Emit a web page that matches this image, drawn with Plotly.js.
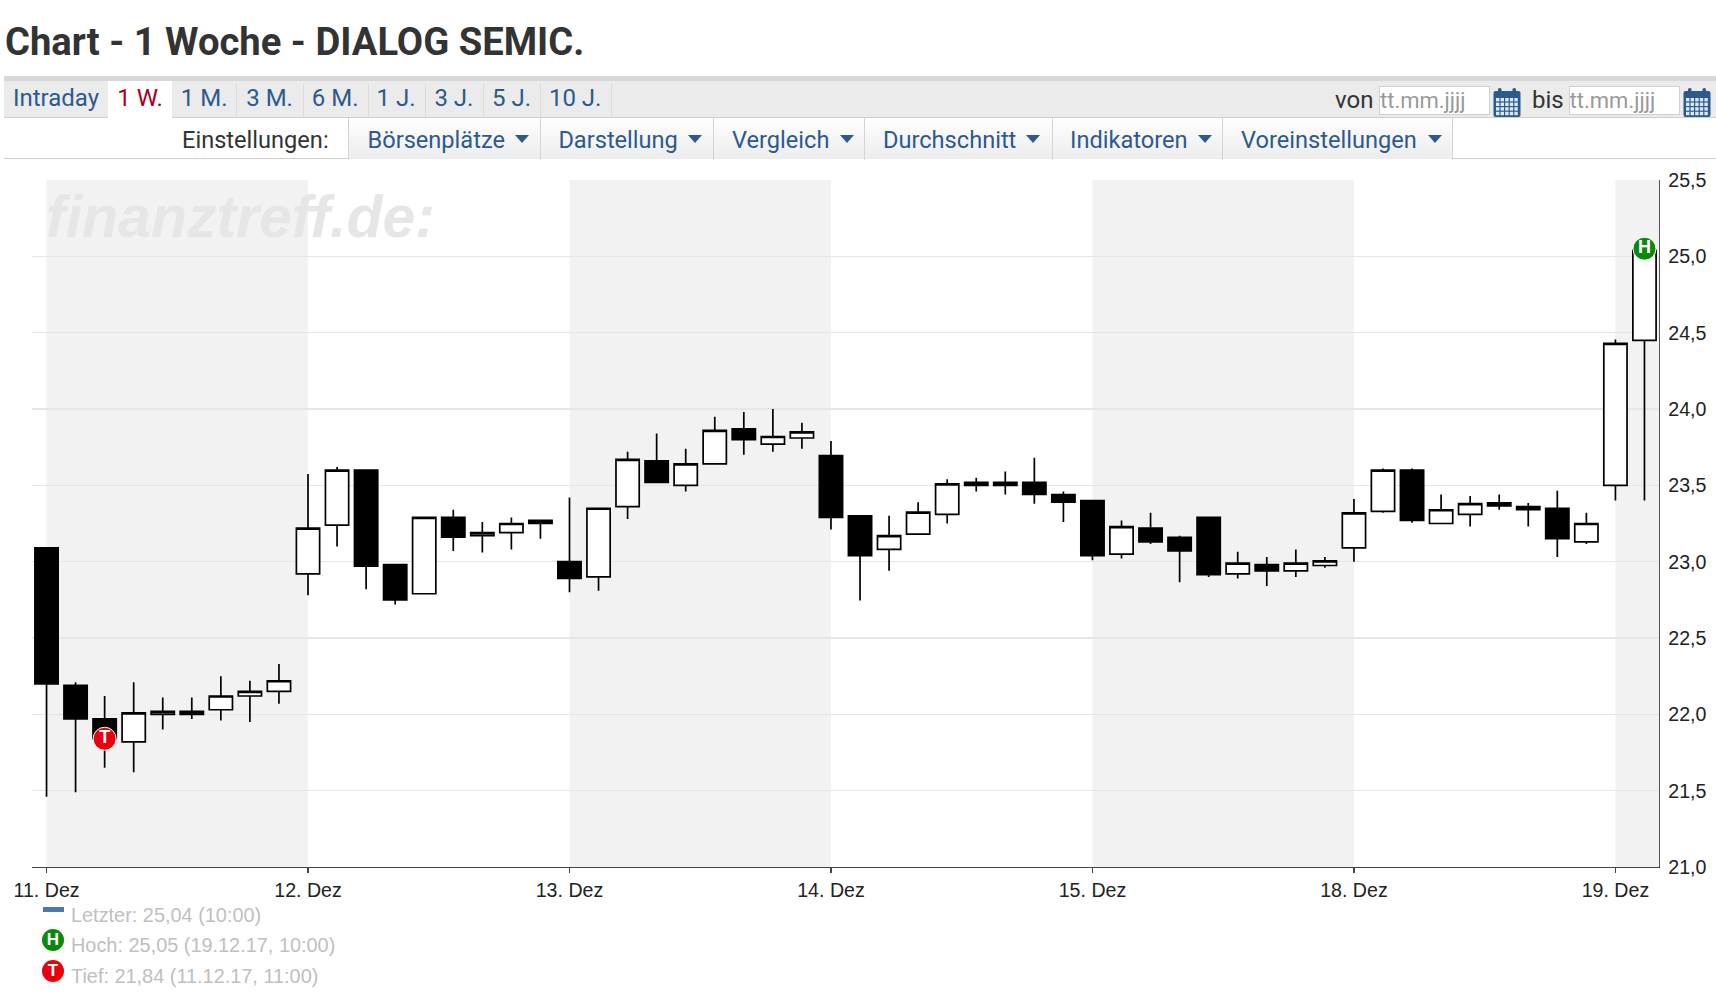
<!DOCTYPE html>
<html><head><meta charset="utf-8">
<script src="https://cdn.plot.ly/plotly-3.0.1.min.js"></script>
<style>
html,body{margin:0;padding:0;background:#fff;width:1716px;height:1002px;overflow:hidden}
#chart{position:absolute;left:0;top:0;width:1716px;height:1002px}
.abs{position:absolute;white-space:nowrap}
.t{font-family:Roboto,sans-serif;color:#2c5a8f;font-size:24px;line-height:30px}
.m{font-size:23.6px}
.arrow{position:absolute;width:0;height:0;border-left:7px solid transparent;border-right:7px solid transparent;border-top:8px solid #2c5a8f}
.btn{position:absolute;top:118px;height:41px;background:linear-gradient(#fff,#ececec)}
.inp{position:absolute;top:86px;height:27px;width:109px;background:#fff;border:1px solid #d0d0d0;font-family:Roboto,sans-serif;font-size:22px;color:#999;line-height:27px;overflow:hidden}
.ico{position:absolute;top:88px;width:28px;height:29px}
.badge{position:absolute;width:22px;height:22px;border-radius:50%;color:#fff;font:bold 17px/22px 'Liberation Sans',sans-serif;text-align:center}
</style></head><body>
<div id="chart"></div>
<div id="ui"></div>
<script>
var dayLabels=['11. Dez','12. Dez','13. Dez','14. Dez','15. Dez','18. Dez','19. Dez'];
var dayKeys=['11.12.','12.12.','13.12.','14.12.','15.12.','18.12.','19.12.'];
var hours=['09:00','10:00','11:00','12:00','13:00','14:00','15:00','16:00','17:00'];
var candleOpen=[23.09,22.19,21.97,21.82,22.00,22.02,22.03,22.12,22.15,
22.92,23.24,23.60,22.98,22.79,23.29,23.17,23.19,23.27,
23.00,22.90,23.36,23.66,23.50,23.64,23.87,23.77,23.81,
23.695,23.30,23.08,23.18,23.31,23.52,23.52,23.52,23.44,
23.40,23.05,23.22,23.16,23.29,22.92,22.98,22.94,22.975,
23.09,23.33,23.60,23.25,23.31,23.385,23.36,23.35,23.13,
23.50,24.45];
var candleHigh=[23.09,22.21,22.12,22.21,22.11,22.11,22.25,22.22,22.33,
23.575,23.62,23.60,22.98,23.29,23.34,23.26,23.29,23.27,
23.42,23.35,23.72,23.84,23.74,23.95,23.98,24.00,23.91,
23.79,23.30,23.30,23.39,23.54,23.55,23.59,23.68,23.46,
23.40,23.27,23.32,23.17,23.29,23.065,23.03,23.08,23.03,
23.41,23.61,23.61,23.44,23.43,23.44,23.385,23.465,23.32,
24.455,25.05];
var candleLow=[21.46,21.49,21.65,21.62,21.90,21.97,21.96,21.95,22.07,
22.78,23.10,22.82,22.72,22.79,23.07,23.06,23.08,23.15,
22.80,22.81,23.28,23.52,23.46,23.64,23.70,23.72,23.74,
23.21,22.745,22.94,23.18,23.25,23.46,23.44,23.38,23.26,
23.01,23.02,23.115,22.865,22.90,22.89,22.84,22.90,22.96,
23.00,23.32,23.255,23.25,23.23,23.34,23.23,23.03,23.115,
23.40,23.40];
var candleClose=[22.20,21.97,21.84,22.01,22.02,22.00,22.12,22.15,22.22,
23.22,23.60,22.97,22.75,23.29,23.16,23.19,23.25,23.25,
22.89,23.35,23.67,23.52,23.64,23.86,23.80,23.82,23.85,
23.29,23.04,23.17,23.325,23.51,23.50,23.50,23.44,23.39,
23.04,23.23,23.13,23.07,22.915,22.99,22.94,22.99,23.005,
23.32,23.60,23.27,23.34,23.38,23.365,23.34,23.15,23.25,
24.43,25.04];
var lowValue=21.84, highValue=25.05;
var tabs=['Intraday','1 W.','1 M.','3 M.','6 M.','1 J.','3 J.','5 J.','10 J.'];
var menus=['Börsenplätze','Darstellung','Vergleich','Durchschnitt','Indikatoren','Voreinstellungen'];
var legendLines=['Letzter: 25,04 (10:00)','Hoch: 25,05 (19.12.17, 10:00)','Tief: 21,84 (11.12.17, 11:00)'];

var cats=[];
dayKeys.forEach(function(d){hours.forEach(function(h){ if(cats.length<candleOpen.length) cats.push(d+' '+h); });});
var firstIdx=dayKeys.map(function(d){return cats.findIndex(function(c){return c.indexOf(d)===0;});});
var shapes=[];
for(var i=0;i<firstIdx.length;i+=2){
  shapes.push({type:'rect',layer:'below',xref:'x',yref:'paper',
    x0:firstIdx[i],x1:i+1<firstIdx.length?firstIdx[i+1]:cats.length-0.5,y0:0,y1:1,
    fillcolor:'#f2f2f2',line:{width:0}});
}
var traces=[{type:'candlestick',x:cats,open:candleOpen,high:candleHigh,low:candleLow,close:candleClose,
  increasing:{line:{color:'#000',width:1.7},fillcolor:'#fff'},
  decreasing:{line:{color:'#000',width:1.7},fillcolor:'#000'},
  whiskerwidth:0,showlegend:false,hoverinfo:'skip'},
 {type:'scatter',mode:'markers+text',x:[cats[2],cats[cats.length-1]],y:[lowValue,highValue],text:['T','H'],
  textposition:'middle center',textfont:{family:'Liberation Sans',size:18,color:'#fff',weight:'bold'},
  marker:{size:23,color:['#e8000d','#0a8a0a'],line:{color:'#fff',width:1}},showlegend:false,hoverinfo:'skip',cliponaxis:false}];
var annos=[{text:'finanztreff.de:',xref:'paper',yref:'paper',x:(44-31.5)/1627.5,y:1-(37)/687,xanchor:'left',yanchor:'middle',showarrow:false,
  font:{family:'Liberation Sans',size:59,color:'#e6e6e6',weight:'bold',style:'italic'}}];
var legY=[915,945,976];
legendLines.forEach(function(t,i){annos.push({text:t,xref:'paper',yref:'paper',x:(69-31.5)/1627.5,y:(867-legY[i])/687,xanchor:'left',yanchor:'middle',showarrow:false,
  font:{family:'Liberation Sans',size:19.9,color:'#c0c0c0'}});});
Plotly.newPlot('chart',traces,{
  width:1716,height:1002,margin:{l:31.5,r:57,t:180,b:135,autoexpand:false},
  paper_bgcolor:'#fff',plot_bgcolor:'rgba(0,0,0,0)',separators:',.',
  boxgap:0.2,boxgroupgap:0,
  title:{text:'<b>Chart - 1 Woche - DIALOG SEMIC.</b>',x:5/1716,xref:'container',xanchor:'left',y:1-42/1002,yref:'container',yanchor:'middle',
    font:{family:'Roboto',size:38.2,color:'#333'}},
  xaxis:{type:'category',range:[-0.5,cats.length-0.5],rangeslider:{visible:false},tickmode:'array',
    tickvals:firstIdx.map(function(i){return cats[i];}),ticktext:dayLabels,ticks:'outside',ticklen:5,tickcolor:'#444',tickwidth:1.3,
    showgrid:false,showline:true,linecolor:'#444',linewidth:1.4,zeroline:false,
    tickfont:{family:'Liberation Sans',size:19.6,color:'#222'},fixedrange:true},
  yaxis:{side:'right',range:[21,25.5],tickmode:'array',tickvals:[21,21.5,22,22.5,23,23.5,24,24.5,25,25.5],tickformat:'.1f',
    showgrid:true,gridcolor:'#e6e6e6',gridwidth:1.5,showline:true,linecolor:'#555',linewidth:1.4,zeroline:false,ticks:'',
    ticklabelstandoff:4,tickfont:{family:'Liberation Sans',size:19.6,color:'#222'},fixedrange:true},
  shapes:shapes,annotations:annos,hovermode:false,dragmode:false,showlegend:false
},{displayModeBar:false,staticPlot:true});

/* page furniture */
var ui=document.getElementById('ui'),h='';
function box(x,y,w,hh,c){return '<div class="abs" style="left:'+x+'px;top:'+y+'px;width:'+w+'px;height:'+hh+'px;background:'+c+'"></div>';}
h+=box(4,76,1712,5,'#d9d9d9')+box(4,81,1712,36,'#ebebeb')+box(4,117,1712,1.3,'#cfcfcf')+box(4,158,1712,1.3,'#cfcfcf');
var tabEdges=[4,108,172,236.4,302.8,367.5,424.6,483.3,539.8,610.5];
h+=box(108,81,64,37,'#fff');
tabs.forEach(function(t,i){
  var l=tabEdges[i],r=tabEdges[i+1];
  h+='<div class="abs t" style="left:'+l+'px;width:'+(r-l)+'px;text-align:center;top:83px;'+(i==1?'color:#a6001e':'')+'">'+t+'</div>';
  if(i!=0&&i!=1) h+=box(r,84,1,33,'#dcdcdc');
});
h+='<div class="abs t m" style="left:182px;top:125px;color:#333">Einstellungen:</div>';
var menuEdges=[348.3,539.8,713,864.4,1051.6,1222.4,1452];
var menuText=[367.5,558.4,732,883,1070,1241];
var arrowX=[515,688,840,1026,1198,1428];
menus.forEach(function(m,i){
  h+='<div class="btn" style="left:'+menuEdges[i]+'px;width:'+(menuEdges[i+1]-menuEdges[i])+'px"></div>';
  h+='<div class="abs t m" style="left:'+menuText[i]+'px;top:125px">'+m+'</div>';
  h+='<div class="arrow" style="left:'+arrowX[i]+'px;top:135px"></div>';
});
menuEdges.forEach(function(x){h+=box(x,118,1,42,'#d4d4d4');});
function cal(x){var s='<svg class="ico" style="left:'+x+'px" viewBox="0 0 28 29"><rect x="0.5" y="3" width="27" height="26" rx="2" fill="#2c5a8f"/>';
  for(var r=0;r<4;r++)for(var c=0;c<5;c++)s+='<rect x="'+(3+c*4.6)+'" y="'+(10+r*4.6)+'" width="3.4" height="3.4" fill="#dfe8f2"/>';
  s+='<rect x="5" y="0" width="3.5" height="7" rx="1.5" fill="#2c5a8f"/><rect x="19.5" y="0" width="3.5" height="7" rx="1.5" fill="#2c5a8f"/></svg>';return s;}
h+='<div class="abs t" style="left:1335px;top:85px;color:#333">von</div>';
h+='<div class="inp" style="left:1379px">tt.mm.jjjj</div>'+cal(1493);
h+='<div class="abs t" style="left:1532px;top:85px;color:#333">bis</div>';
h+='<div class="inp" style="left:1568.6px">tt.mm.jjjj</div>'+cal(1683);
h+=box(42.7,906.5,21.5,5,'#4a78b0');
h+='<div class="badge" style="left:42px;top:929px;background:#0a8a0a">H</div>';
h+='<div class="badge" style="left:42px;top:960px;background:#e8000d">T</div>';
ui.innerHTML=h;
</script>
</body></html>
